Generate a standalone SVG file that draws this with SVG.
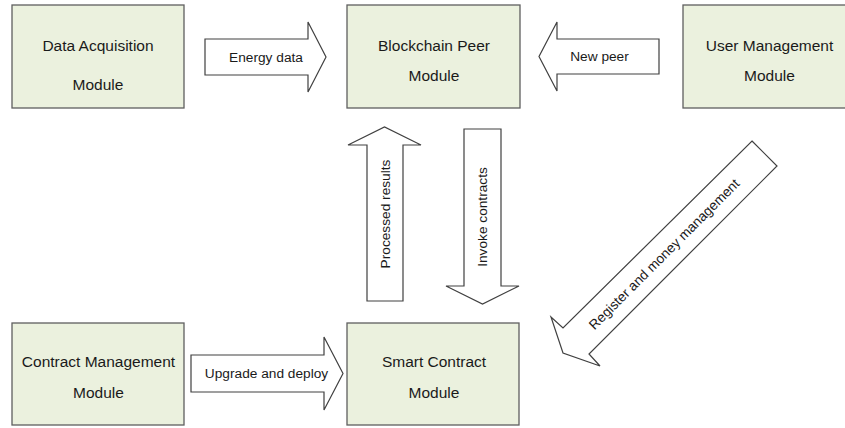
<svg xmlns="http://www.w3.org/2000/svg" width="845" height="428" viewBox="0 0 845 428">
<style>
.box{fill:#EBF1DE;stroke:#5F5F5F;stroke-width:1.3}
.arr{fill:#FFFFFF;stroke:#404040;stroke-width:1.2;stroke-linejoin:miter}
.t{font-family:"Liberation Sans",Arial,sans-serif;font-size:15.5px;fill:#1A1A1A;text-anchor:middle}
.l{font-family:"Liberation Sans",Arial,sans-serif;font-size:13.7px;fill:#1A1A1A;text-anchor:middle}
</style>
<rect width="845" height="428" fill="#FFFFFF"/>
<g id="data-acquisition">
<rect class="box" x="12" y="5" width="172" height="103"/>
<text class="t" x="98" y="51">Data Acquisition</text>
<text class="t" x="98" y="90">Module</text>
</g>
<g id="blockchain-peer">
<rect class="box" x="347" y="5" width="173" height="103"/>
<text class="t" x="434" y="51">Blockchain Peer</text>
<text class="t" x="434" y="81">Module</text>
</g>
<g id="user-management">
<rect class="box" x="683" y="5" width="173" height="103"/>
<text class="t" x="769.5" y="51">User Management</text>
<text class="t" x="769.5" y="81">Module</text>
</g>
<g id="contract-management">
<rect class="box" x="12" y="323" width="172" height="102"/>
<text class="t" x="98.5" y="367">Contract Management</text>
<text class="t" x="98.5" y="398">Module</text>
</g>
<g id="smart-contract">
<rect class="box" x="347" y="323" width="172" height="102"/>
<text class="t" x="434" y="367">Smart Contract</text>
<text class="t" x="434" y="398">Module</text>
</g>
<g id="connectors">
<g id="energy-data">
<polygon class="arr" points="205,39 308,39 308,22 326,57 308,92 308,75 205,75"/>
<text class="l" x="266" y="61.5">Energy data</text>
</g>
<g id="new-peer">
<polygon class="arr" points="659,39 557,39 557,22 539,56.5 557,91 557,74 659,74"/>
<text class="l" x="599.5" y="61">New peer</text>
</g>
<g id="upgrade-deploy">
<polygon class="arr" points="191,355 324,355 324,337 343,373.5 324,410 324,392 191,392"/>
<text class="l" x="266.5" y="378">Upgrade and deploy</text>
</g>
<g id="processed-results">
<polygon class="arr" points="367,301 367,145 348,145 384.5,127 421,145 403,145 403,301"/>
<text class="l" transform="translate(390,214) rotate(-90)">Processed results</text>
</g>
<g id="invoke-contracts">
<polygon class="arr" points="464,129 501,129 501,286 519,286 482.5,304 446,286 464,286"/>
<text class="l" transform="translate(487,217) rotate(-90)">Invoke contracts</text>
</g>
<g id="register-money">
<polygon class="arr" points="752,141 777,166 589,354 600,366 563,353 551,317 563,328"/>
<text class="l" transform="translate(667.5,257.5) rotate(-45)">Register and money management</text>
</g>
</g>
</svg>
